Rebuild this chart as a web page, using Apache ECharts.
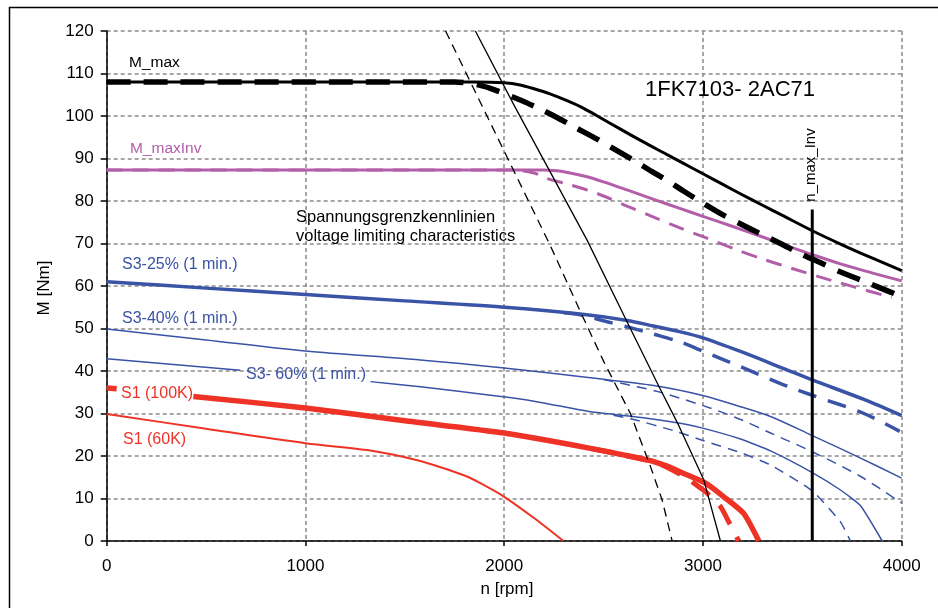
<!DOCTYPE html>
<html>
<head>
<meta charset="utf-8">
<script src="https://cdn.jsdelivr.net/npm/echarts@6/dist/echarts.min.js"></script>
<style>
html,body{margin:0;padding:0;background:#fff;}
#c{width:938px;height:608px;}
</style>
</head>
<body>
<div id="c"></div>
<script>
// ---- data (x = n [rpm], y = M [Nm]) ----
const xTicks = [0, 1000, 2000, 3000, 4000];
const yTicks = [0, 10, 20, 30, 40, 50, 60, 70, 80, 90, 100, 110, 120];

const mMax = [[0,108],[1850,108],[2000,107.8],[2080,107.3],[2150,106.4],[2230,105.2],[2316,103.6],[2400,101.8],[2484,99.6],[2585,96.9],[2700,93.9],[2800,91.4],[2900,88.9],[3000,86.4],[3100,83.9],[3200,81.4],[3300,79],[3400,76.6],[3550,73],[3700,69.7],[3850,66.6],[4000,63.6]];
const mMaxDash = [[0,108],[1750,108],[1880,107.2],[1965,105.9],[2090,103.6],[2155,102.2],[2268,99.6],[2350,97.5],[2470,94.5],[2550,92.3],[2650,89.6],[2744,86.9],[2828,84.6],[2900,82.4],[3000,79.5],[3098,76.8],[3190,74.6],[3280,72.5],[3390,70],[3490,67.6],[3600,65.3],[3693,63.3],[3794,61.4],[3879,59.8],[4000,57.5]];
const mMaxInv = [[0,87.3],[2200,87.3],[2249,87.2],[2300,86.9],[2417,85.7],[2500,84.5],[2618,82.6],[2752,80.4],[2887,78.2],[3000,76.4],[3150,74],[3290,71.7],[3420,69.5],[3550,67.4],[3700,65.1],[3850,63.1],[4000,61.2]];
const mMaxInvDash = [[0,87.3],[2050,87.3],[2150,86.6],[2215,85.3],[2300,84.2],[2417,82.6],[2510,81],[2618,78.8],[2737,76.5],[2887,73.6],[3000,71.6],[3155,68.8],[3290,66.5],[3457,64],[3590,62.1],[3760,59.8],[3950,57.3]];
const s3_25 = [[0,61],[500,59.5],[1000,58],[1500,56.5],[2000,55],[2383,53.4],[2618,51.9],[2750,50.6],[2887,49.2],[3000,47.8],[3189,44.6],[3400,40.7],[3550,37.9],[3810,33.3],[4000,29.5]];
const s3_25Dash = [[2300,53.7],[2383,53.2],[2484,52],[2618,50.4],[2750,48.7],[2887,46.8],[3003,44.6],[3189,41],[3425,36.4],[3550,34.3],[3810,30],[3990,25.8]];
const s3_40 = [[0,49.9],[500,47.3],[1000,44.7],[1578,42.6],[2000,40.7],[2434,38.4],[2752,36.6],[3004,34.2],[3189,31.6],[3340,29.3],[3550,24.8],[3780,19.8],[4000,14.8]];
const s3_40Dash = [[2500,38],[2618,36.8],[2769,35.2],[3004,31.8],[3189,28.6],[3340,25.4],[3550,21],[3800,15],[4000,8.9]];
const s3_60 = [[0,42.9],[672,40.2],[900,null],[1327,37.5],[1578,36.3],[2115,33.2],[2434,30.4],[2700,29],[2900,27.6],[3004,26.5],[3189,24],[3340,21.2],[3550,16.1],[3692,12],[3793,8.3],[3902,0]];
const s3_60Dash = [[2550,29.6],[2652,28.6],[2850,26],[3004,23.6],[3189,20.8],[3340,17.9],[3550,11.8],[3692,4.5],[3742,0]];
const s1_100 = [[0,36],[50,35.8],[200,null],[436,34],[1000,31.3],[1500,28.3],[2000,25.4],[2434,21.8],[2719,19.1],[2820,17.6],[2903,15.9],[3013,13.6],[3105,10.4],[3205,6.5],[3281,0]];
const s1_100Dash = [[2434,21.8],[2719,19],[2795,17.9],[2912,15],[2987,12.5],[3013,11.6],[3088,8.1],[3130,4.5],[3180,0]];
const s1_60 = [[0,29.9],[500,26.4],[1000,23],[1310,21.4],[1490,19.8],[1645,17.9],[1800,15.4],[1880,13.6],[2000,10.4],[2150,5.4],[2298,0]];
const voltLimit = [[1855,120],[2050,102.5],[2232,86.8],[2417,70.8],[2618,51.6],[2778,36.4],[2878,27.2],[3004,14.4],[3088,0]];
const voltLimitDash = [[1705,120],[1997,92],[2232,69.5],[2383,54],[2501,42.2],[2635,30],[2736,17.5],[2795,9.6],[2845,0]];
const nMaxInv = [[3550,0],[3550,78]];

// ---- styling ----
const FONT = '"Liberation Sans", Arial, Helvetica, sans-serif';
const BLACK = '#000000', PURPLE = '#b35ea9', BLUE = '#3953a6', RED = '#ee3326';

function line(data, color, width, dash, smooth, z) {
  return {
    type: 'line', data: data, showSymbol: false, symbol: 'none',
    connectNulls: false, animation: false, silent: true, z: z || 2,
    smooth: smooth || false,
    lineStyle: { color: color, width: width, type: dash || 'solid', cap: 'butt', join: 'round' }
  };
}

function txt(text, x, y, color, size, align, rot) {
  return {
    type: 'text', x: x, y: y, rotation: rot || 0, silent: true, z: 100,
    style: {
      text: text, fill: color, font: size + 'px ' + FONT,
      align: align || 'left', verticalAlign: 'middle',
      textAlign: align || 'left', textVerticalAlign: 'middle'
    }
  };
}

const chart = echarts.init(document.getElementById('c'), null, { renderer: 'canvas' });
chart.setOption({
  animation: false,
  backgroundColor: '#ffffff',
  grid: { left: 106.7, right: 36.3, top: 31, bottom: 67, containLabel: false },
  xAxis: {
    type: 'value', min: xTicks[0], max: xTicks[xTicks.length - 1], interval: 1000,
    axisLine: { show: true, onZero: false, lineStyle: { color: '#000', width: 1.5 } },
    axisTick: { show: true, length: 5, lineStyle: { color: '#000', width: 1.5 } },
    axisLabel: { color: '#000', fontSize: 17, fontFamily: FONT, margin: 17, formatter: function (v) { return String(v); } },
    splitLine: { show: true, lineStyle: { color: '#8a8a8a', width: 1.5, type: [4, 3] } }
  },
  yAxis: {
    type: 'value', min: yTicks[0], max: yTicks[yTicks.length - 1], interval: 10,
    axisLine: { show: true, onZero: false, lineStyle: { color: '#000', width: 1.5 } },
    axisTick: { show: true, length: 6, lineStyle: { color: '#000', width: 1.5 } },
    axisLabel: { color: '#000', fontSize: 17, fontFamily: FONT, margin: 13, formatter: function (v) { return String(v); } },
    splitLine: { show: true, lineStyle: { color: '#8a8a8a', width: 1.5, type: [4, 3] } }
  },
  series: [
    line(s1_60, RED, 2, null, 0.3),
    line(s3_60, BLUE, 1.5, null, 0.15),
    line(s3_60Dash, BLUE, 1.5, [10, 7], 0.15),
    line(s3_40, BLUE, 1.5, null, 0.3),
    line(s3_40Dash, BLUE, 1.5, [10, 7], 0.3),
    line(s3_25, BLUE, 3.5, null, 0.3),
    line(s3_25Dash, BLUE, 3.5, [19, 12], 0.3),
    line(mMaxInv, PURPLE, 3, null, 0.3),
    line(mMaxInvDash, PURPLE, 3, [16, 10], 0.3),
    line(s1_100, RED, 5.5, null, 0.2),
    line(s1_100Dash, RED, 5, [22, 14], 0.2),
    line(mMax, BLACK, 3, null, 0.3),
    line(mMaxDash, BLACK, 5.5, [24, 13], 0.3),
    line(voltLimit, BLACK, 1.3),
    line(voltLimitDash, BLACK, 1.3, [9, 6]),
    line(nMaxInv, BLACK, 3)
  ],
  graphic: [
    { type: 'rect', silent: true, z: 0, shape: { x: 9.5, y: 7.5, width: 960, height: 640 },
      style: { fill: 'none', stroke: '#000', lineWidth: 1.5 } },
    txt('M [Nm]', 44, 288, '#000', 17, 'center', Math.PI / 2),
    txt('n [rpm]', 507, 589, '#000', 17, 'center'),
    txt('M_max', 129, 63, '#000', 15.5),
    txt('M_maxInv', 130, 149, PURPLE, 15.5),
    txt('1FK7103- 2AC71', 645, 90, '#000', 22),
    txt('Spannungsgrenzkennlinien', 296, 217, '#000', 16.5),
    txt('voltage limiting characteristics', 296, 236, '#000', 16.5),
    txt('S3-25% (1 min.)', 122, 265, BLUE, 16),
    txt('S3-40% (1 min.)', 122, 319, BLUE, 16),
    txt('S3- 60% (1 min.)', 246, 375, BLUE, 16),
    txt('S1 (100K)', 121, 394, RED, 16),
    txt('S1 (60K)', 123, 440, RED, 16),
    txt('n_max_Inv', 811, 165, '#000', 15, 'center', Math.PI / 2)
  ]
});
</script>
</body>
</html>
